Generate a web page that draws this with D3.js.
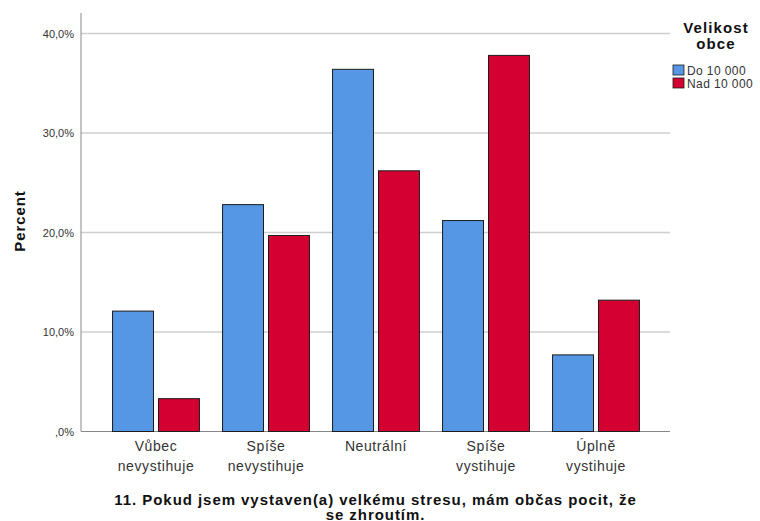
<!DOCTYPE html>
<html>
<head>
<meta charset="utf-8">
<script src="https://cdn.jsdelivr.net/npm/d3@7"></script>
<style>
  body { margin: 0; background: #fff; }
  svg { font-family: "Liberation Sans", Arial, sans-serif; }
</style>
</head>
<body>
<div id="chart"></div>
<script>
// categories and series
const categories = [
    ["Vůbec", "nevystihuje"],
    ["Spíše", "nevystihuje"],
    ["Neutrální"],
    ["Spíše", "vystihuje"],
    ["Úplně", "vystihuje"]
];
const seriesNames = ["Do 10 000", "Nad 10 000"];
const doValues = [12.1, 22.8, 36.4, 21.2, 7.7];
const nadValues = [3.3, 19.7, 26.2, 37.8, 13.2];
const yTicks = [0, 10, 20, 30, 40];
const colors = ["#5596e5", "#d50032"];

const width = 760, height = 521;
const plotLeft = 81, plotRight = 670, plotTop = 13, plotBottom = 431.5;

const svg = d3.select("#chart")
    .append("svg")
    .attr("width", width)
    .attr("height", height);

const yScale = d3.scaleLinear()
    .domain([0, 40])
    .range([plotBottom, plotBottom - 4 * 99.5]);

const catIdx = categories.map((c, i) => i);
const xScale = d3.scaleBand()
    .domain(catIdx)
    .range([101, 651])
    .paddingInner(0.21)
    .paddingOuter(0.105);

const xSub = d3.scaleBand()
    .domain([0, 1])
    .range([0, xScale.bandwidth()])
    .paddingInner(0.1087);

// gridlines
svg.append("g")
    .selectAll("line")
    .data(yTicks.filter(d => d > 0))
    .enter()
    .append("line")
    .attr("x1", plotLeft)
    .attr("x2", plotRight)
    .attr("y1", d => yScale(d))
    .attr("y2", d => yScale(d))
    .attr("stroke", "#cfcfcf")
    .attr("stroke-width", 1.5);

// y axis
const yAxis = d3.axisLeft(yScale)
    .tickValues(yTicks)
    .tickSize(0)
    .tickPadding(7)
    .tickFormat(d => (d === 0 ? "" : d) + ",0%");

const yg = svg.append("g")
    .attr("transform", "translate(" + plotLeft + ",0)")
    .call(yAxis);
yg.select(".domain").remove();
yg.selectAll("text")
    .attr("font-size", "11px")
    .attr("font-family", "Liberation Sans, Arial, sans-serif")
    .attr("fill", "#333")
    .attr("dy", "0.35em");

svg.append("line")
    .attr("x1", plotLeft).attr("x2", plotLeft)
    .attr("y1", plotTop).attr("y2", plotBottom)
    .attr("stroke", "#888")
    .attr("stroke-width", 1);

svg.append("line")
    .attr("x1", plotLeft).attr("x2", plotRight)
    .attr("y1", plotBottom).attr("y2", plotBottom)
    .attr("stroke", "#888")
    .attr("stroke-width", 1);

// bars
const rows = catIdx.map(i => [doValues[i], nadValues[i]]);
const groups = svg.append("g")
    .selectAll("g")
    .data(rows)
    .enter()
    .append("g")
    .attr("transform", (d, i) => "translate(" + xScale(i) + ",0)");

groups.selectAll("rect")
    .data(d => d)
    .enter()
    .append("rect")
    .attr("x", (d, j) => xSub(j))
    .attr("y", d => yScale(d))
    .attr("width", xSub.bandwidth())
    .attr("height", d => plotBottom - yScale(d))
    .attr("fill", (d, j) => colors[j])
    .attr("stroke", "#1c1c1c")
    .attr("stroke-width", 1);

// x labels
const xl = svg.append("g")
    .selectAll("text")
    .data(categories)
    .enter()
    .append("text")
    .attr("x", (d, i) => xScale(i) + xScale.bandwidth() / 2)
    .attr("y", 451)
    .attr("text-anchor", "middle")
    .attr("font-size", "14px")
    .attr("letter-spacing", "0.6px")
    .attr("fill", "#333");
xl.selectAll("tspan")
    .data(d => d)
    .enter()
    .append("tspan")
    .attr("x", function () { return d3.select(this.parentNode).attr("x"); })
    .attr("dy", (d, k) => k === 0 ? 0 : 20)
    .text(d => d);

// x title
const xtX = (plotLeft + plotRight) / 2;
const xt = svg.append("text")
    .attr("x", xtX)
    .attr("y", 505)
    .attr("text-anchor", "middle")
    .attr("font-size", "15px")
    .attr("font-weight", "bold")
    .attr("letter-spacing", "0.95px")
    .attr("fill", "#111");
xt.append("tspan").attr("x", xtX).attr("dy", 0)
    .text("11. Pokud jsem vystaven(a) velkému stresu, mám občas pocit, že");
xt.append("tspan").attr("x", xtX).attr("dy", 15)
    .text("se zhroutím.");

// y title
svg.append("text")
    .attr("transform", "translate(25,221) rotate(-90)")
    .attr("text-anchor", "middle")
    .attr("font-size", "15px")
    .attr("font-weight", "bold")
    .attr("letter-spacing", "0.9px")
    .attr("fill", "#111")
    .text("Percent");

// legend
const legend = svg.append("g");
legend.append("text")
    .attr("x", 716).attr("y", 33)
    .attr("text-anchor", "middle")
    .attr("font-size", "15px")
    .attr("font-weight", "bold")
    .attr("letter-spacing", "1.1px")
    .attr("fill", "#111")
    .text("Velikost");
legend.append("text")
    .attr("x", 716).attr("y", 49)
    .attr("text-anchor", "middle")
    .attr("font-size", "15px")
    .attr("font-weight", "bold")
    .attr("letter-spacing", "1.1px")
    .attr("fill", "#111")
    .text("obce");

const items = legend.selectAll(".item")
    .data(seriesNames)
    .enter()
    .append("g")
    .attr("class", "item")
    .attr("transform", (d, i) => "translate(673," + (65 + i * 13) + ")");
items.append("rect")
    .attr("width", 11)
    .attr("height", 10)
    .attr("fill", (d, i) => colors[i])
    .attr("stroke", "#1c1c1c")
    .attr("stroke-width", 0.8);
items.append("text")
    .attr("x", 14)
    .attr("y", 9.5)
    .attr("font-size", "12px")
    .attr("letter-spacing", "0.4px")
    .attr("fill", "#333")
    .text(d => d);
</script>
</body>
</html>
